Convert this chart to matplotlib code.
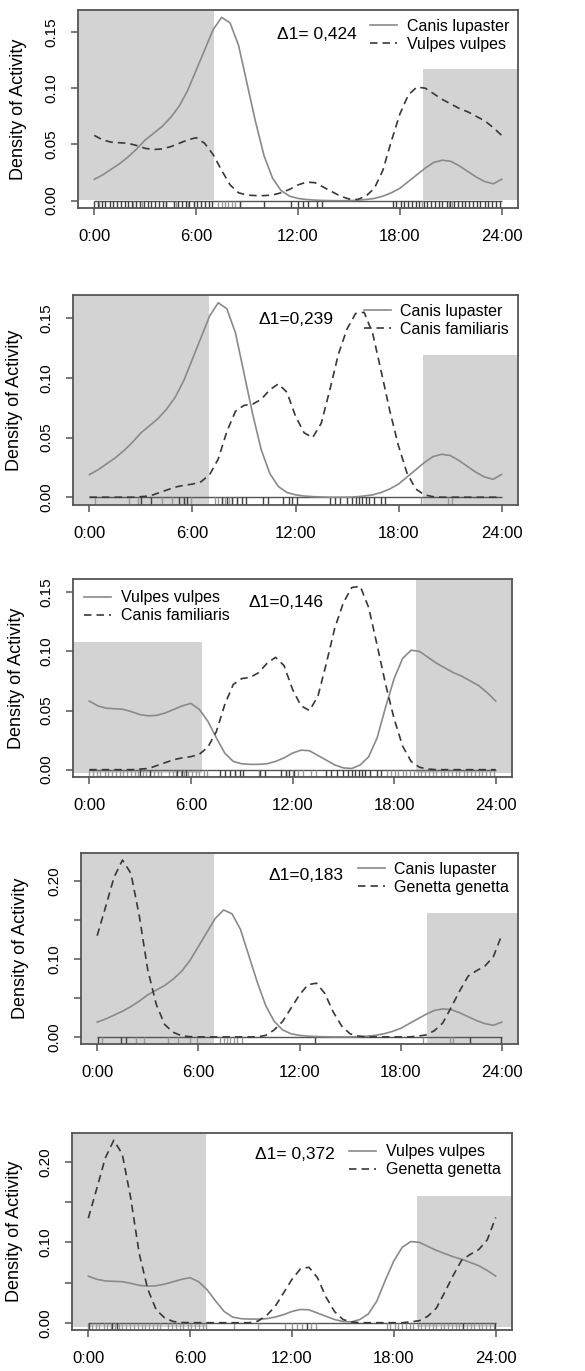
import matplotlib
matplotlib.use("Agg")
import matplotlib.pyplot as plt
from matplotlib import font_manager as fm
from matplotlib.patches import Rectangle
from matplotlib.lines import Line2D

# ---------------- data ----------------
hours = [0, 0.5, 1, 1.5, 2, 2.5, 3, 3.5, 4, 4.5, 5, 5.5, 6, 6.5, 7, 7.5, 8, 8.5,
         9, 9.5, 10, 10.5, 11, 11.5, 12, 12.5, 13, 13.5, 14, 14.5, 15, 15.5, 16,
         16.5, 17, 17.5, 18, 18.5, 19, 19.5, 20, 20.5, 21, 21.5, 22, 22.5, 23,
         23.5, 24]

canis_lupaster = [0.019, 0.023, 0.028, 0.033, 0.039, 0.046, 0.054, 0.060, 0.066,
                  0.074, 0.084, 0.098, 0.116, 0.134, 0.152, 0.163, 0.158, 0.138,
                  0.104, 0.070, 0.040, 0.020, 0.009, 0.004, 0.002, 0.001, 0.0005,
                  0.0002, 0.0, 0.0, 0.0, 0.0003, 0.001, 0.002, 0.004, 0.007, 0.011,
                  0.017, 0.023, 0.029, 0.034, 0.036, 0.035, 0.031, 0.026, 0.021,
                  0.017, 0.015, 0.019]

vulpes_vulpes = [0.058, 0.054, 0.052, 0.0515, 0.051, 0.049, 0.0465, 0.0455, 0.046,
                 0.048, 0.051, 0.054, 0.056, 0.051, 0.041, 0.027, 0.014, 0.007,
                 0.005, 0.0045, 0.0045, 0.005, 0.007, 0.010, 0.014, 0.0165, 0.016,
                 0.012, 0.008, 0.004, 0.0015, 0.001, 0.004, 0.011, 0.027, 0.053,
                 0.077, 0.094, 0.101, 0.100, 0.095, 0.090, 0.086, 0.082, 0.079,
                 0.075, 0.071, 0.065, 0.058]

canis_familiaris = [0.0, 0.0, 0.0, 0.0, 0.0, 0.0, 0.0005, 0.001, 0.0035, 0.006,
                    0.0085, 0.010, 0.011, 0.013, 0.019, 0.032, 0.055, 0.072, 0.077,
                    0.078, 0.082, 0.090, 0.095, 0.088, 0.068, 0.054, 0.050, 0.062,
                    0.090, 0.120, 0.141, 0.154, 0.155, 0.137, 0.105, 0.072, 0.043,
                    0.020, 0.007, 0.002, 0.0005, 0.0, 0.0, 0.0, 0.0, 0.0, 0.0, 0.0,
                    0.0]

genetta_genetta = [0.130, 0.167, 0.205, 0.227, 0.210, 0.155, 0.086, 0.042, 0.016,
                   0.006, 0.0015, 0.0003, 0.0, 0.0, 0.0, 0.0, 0.0, 0.0, 0.0, 0.0,
                   0.002, 0.009, 0.020, 0.037, 0.054, 0.067, 0.069, 0.056, 0.032,
                   0.014, 0.004, 0.001, 0.0, 0.0, 0.0, 0.0, 0.0, 0.0, 0.001, 0.0025,
                   0.008, 0.018, 0.038, 0.059, 0.078, 0.085, 0.091, 0.103, 0.131]

# observation times (rug)
rug_lupaster = [0.3, 2.3, 2.8, 4.2, 4.8, 5.5, 5.9, 7.3, 7.5, 7.7, 7.9, 8.1, 8.3,
                8.6, 19.3, 20.9, 21.1]
rug_vulpes = [0.0, 0.2, 0.45, 0.65, 0.9, 1.1, 1.35, 1.55, 1.8, 2.0, 2.25, 2.45,
              2.7, 2.9, 3.15, 3.35, 3.6, 3.8, 4.05, 4.25, 4.7, 4.95, 5.15, 5.4,
              5.6, 5.85, 6.05, 6.3, 6.5, 6.75, 6.95, 8.6, 10.0, 11.6, 12.0, 12.3,
              12.6, 13.1, 13.4, 17.6, 17.8, 18.05, 18.25, 18.5, 18.7, 18.95,
              19.15, 19.4, 19.6, 19.85, 20.05, 20.3, 20.5, 20.75, 20.95, 21.2,
              21.4, 21.65, 21.85, 22.1, 22.3, 22.55, 22.75, 23.0, 23.2, 23.45,
              23.65, 23.9]
rug_familiaris = [3.0, 3.6, 5.2, 5.5, 5.7, 7.7, 8.0, 8.3, 8.6, 8.9, 9.1, 10.1,
                  10.4, 11.3, 11.6, 11.8, 12.1, 14.0, 14.3, 14.6, 15.0, 15.3, 15.5,
                  15.7, 15.9, 16.1, 16.3, 16.6, 17.0, 17.2]
rug_genetta = [0.05, 1.4, 1.7, 12.9, 22.1, 23.95]

species = {
    "Canis lupaster": (canis_lupaster, rug_lupaster),
    "Vulpes vulpes": (vulpes_vulpes, rug_vulpes),
    "Canis familiaris": (canis_familiaris, rug_familiaris),
    "Genetta genetta": (genetta_genetta, rug_genetta),
}

pair_first = ["Canis lupaster", "Canis lupaster", "Vulpes vulpes", "Canis lupaster", "Vulpes vulpes"]
pair_second = ["Vulpes vulpes", "Canis familiaris", "Canis familiaris", "Genetta genetta", "Genetta genetta"]
overlap_text = ["Δ1= 0,424", "Δ1=0,239", "Δ1=0,146", "Δ1=0,183", "Δ1= 0,372"]

# night shading: sunrise / sunset hours and heights of the grey boxes (None = full height)
sunrise = [7.05, 6.95, 6.68, 6.92, 6.96]
sunset = [19.35, 19.42, 19.27, 19.56, 19.34]
night_left_top = [None, None, 0.108, None, None]
night_right_top = [0.117, 0.1195, None, 0.159, 0.158]

x_ticks = [0, 6, 12, 18, 24]
x_tick_labels = ["0:00", "6:00", "12:00", "18:00", "24:00"]

# ---------------- layout / style ----------------
W, H = 585, 1371
axes_px = [(78, 10, 518, 208), (73, 295, 518, 505), (73, 579, 512, 777),
           (81, 853, 518, 1044), (72, 1133, 512, 1330)]
text_pos = [(0.543, 0.874), (0.501, 0.881), (0.485, 0.879), (0.515, 0.880), (0.507, 0.893)]
legend_loc = ["upper right", "upper right", "upper left", "upper right", "upper right"]
legend_axpad = [0.35, 0.35, 0.5, 0.35, 0.5]
shade_bottom = [0.001, -0.006, -0.003, -0.009, -0.005]
ylabel_x_px = [18, 15, 17, 21, 14]

names = {f.name for f in fm.fontManager.ttflist}
if "Liberation Sans Narrow" in names:
    NARROW, NSIZE = "Liberation Sans Narrow", 12.5
else:
    NARROW, NSIZE = "Liberation Sans", 11.5
REG = "Liberation Sans"

SHADE = "#d3d3d3"
C_SOLID = "#8a8a8a"
C_DASH = "#383838"
C_AX = "#555555"
DASH = (0, (4.5, 3))

plt.rcParams["font.family"] = [REG, "DejaVu Sans"]
fig = plt.figure(figsize=(W / 100, H / 100), dpi=100)

for i in range(5):
    l, t, r, b = axes_px[i]
    ax = fig.add_axes([l / W, 1 - b / H, (r - l) / W, (b - t) / H])
    a_name, b_name = pair_first[i], pair_second[i]
    dens_a, rug_a = species[a_name]
    dens_b, rug_b = species[b_name]
    m = max(max(dens_a), max(dens_b))
    y0, y1 = -0.04 * m, 1.04 * m
    x0, x1 = -0.96, 24.96
    ax.set_xlim(x0, x1)
    ax.set_ylim(y0, y1)

    lt = y1 if night_left_top[i] is None else night_left_top[i]
    rt = y1 if night_right_top[i] is None else night_right_top[i]
    sb = shade_bottom[i]
    ax.add_patch(Rectangle((x0, sb), sunrise[i] - x0, lt - sb, facecolor=SHADE,
                           edgecolor="none", zorder=0))
    ax.add_patch(Rectangle((sunset[i], sb), x1 - sunset[i], rt - sb, facecolor=SHADE,
                           edgecolor="none", zorder=0))

    ax.hlines(0, 0, 24, color=C_AX, lw=1.0, zorder=1)
    ax.vlines(rug_a, y0, 0, color="#9a9a9a", lw=1.0, zorder=1)
    ax.vlines(rug_b, y0, 0, color="#404040", lw=1.0, zorder=1)

    ax.plot(hours, dens_a, color=C_SOLID, lw=1.2, zorder=2)
    ax.plot(hours, dens_b, color=C_DASH, lw=1.2, ls=DASH, zorder=2)

    for s in ax.spines.values():
        s.set_color(C_AX)
        s.set_linewidth(1.3)

    ax.set_xticks(x_ticks)
    ax.set_xticklabels(x_tick_labels, fontfamily=NARROW, fontsize=NSIZE + 0.5)
    if m > 0.2:
        yt = [0, 0.05, 0.10, 0.15, 0.20]
        yl = ["0.00", "", "0.10", "", "0.20"]
    else:
        yt = [0, 0.05, 0.10, 0.15]
        yl = ["0.00", "0.05", "0.10", "0.15"]
    ax.set_yticks(yt)
    ax.set_yticklabels(yl, rotation=90, va="center", fontsize=11)
    ax.tick_params(axis="x", length=5, width=1.1, color=C_AX, pad=10)
    ax.tick_params(axis="y", length=5, width=1.1, color=C_AX, pad=9)

    ax.set_ylabel("Density of Activity", fontsize=13, va="center")
    ax.yaxis.set_label_coords((ylabel_x_px[i] - l) / (r - l), 0.5)

    ax.text(text_pos[i][0], text_pos[i][1], overlap_text[i], transform=ax.transAxes,
            ha="center", va="center", fontfamily=NARROW, fontsize=NSIZE + 1)

    handles = [Line2D([], [], color=C_SOLID, lw=1.2),
               Line2D([], [], color=C_DASH, lw=1.2, ls=DASH)]
    ax.legend(handles, [a_name, b_name], loc=legend_loc[i], frameon=False,
              prop={"family": NARROW, "size": NSIZE}, handlelength=1.7,
              handletextpad=0.6, labelspacing=0.2, borderpad=0.2,
              borderaxespad=legend_axpad[i])

fig.savefig("out.png", dpi=100)
